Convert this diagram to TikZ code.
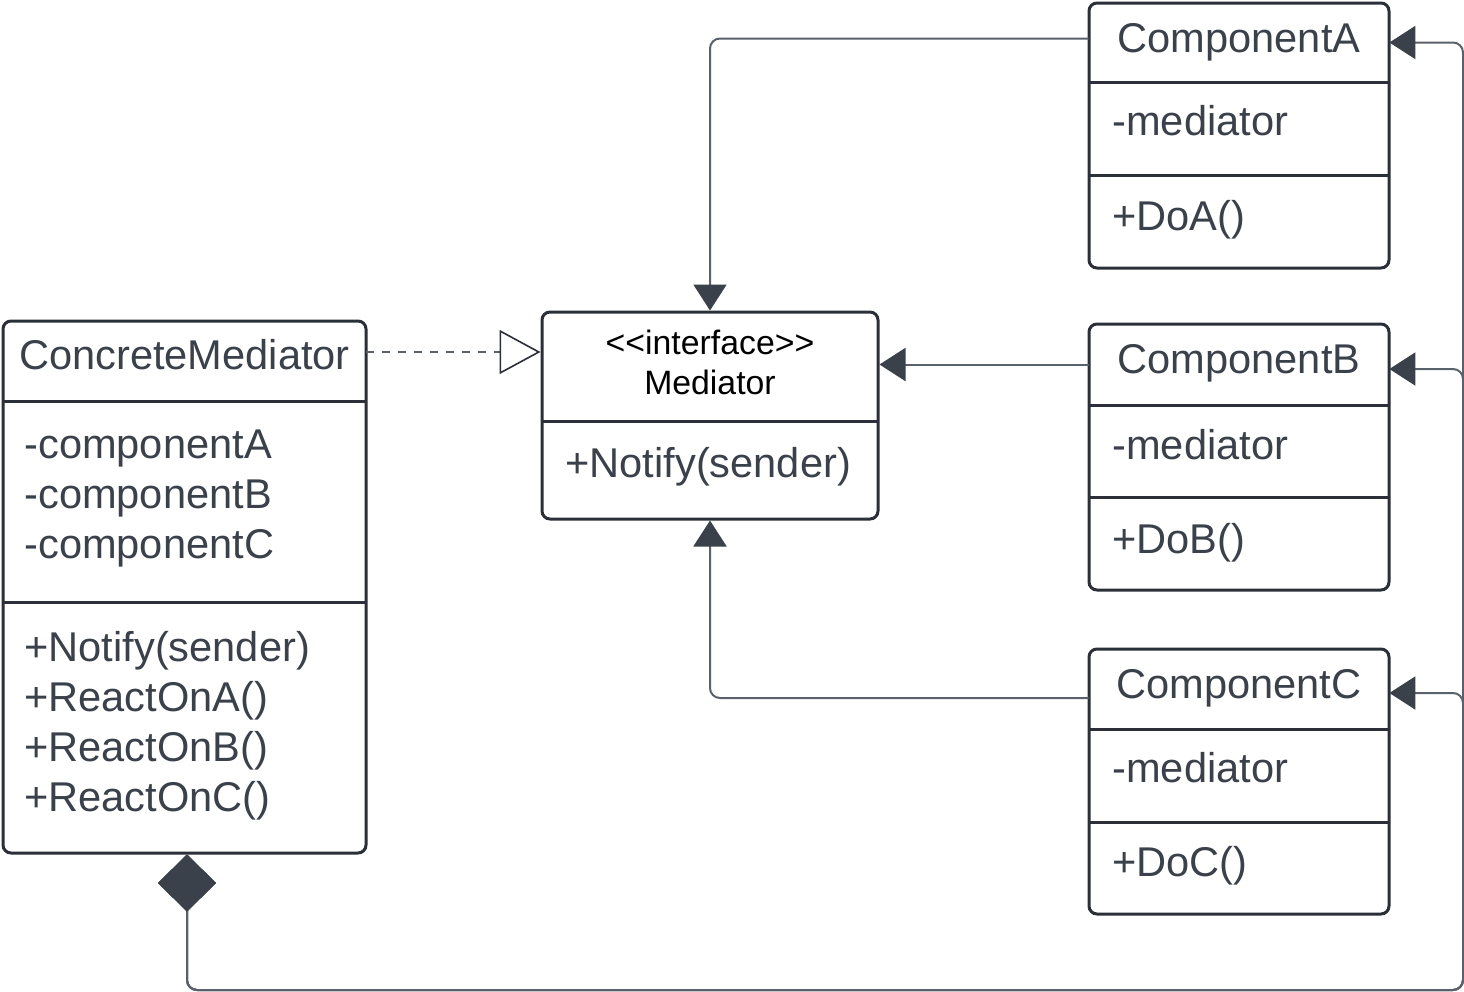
\documentclass[tikz,border=0pt]{standalone}
\usepackage{fontspec}
\setmainfont{Liberation Sans}
\usetikzlibrary{arrows.meta,fit}
\definecolor{ink}{HTML}{2B3038}
\definecolor{txt}{HTML}{3A414A}
\definecolor{wire}{HTML}{5B616A}
\definecolor{tipc}{HTML}{3A414A}
\begin{document}
\begin{tikzpicture}[x=0.5pt,y=-0.5pt,
  classbox/.style={draw=ink, line width=1.5pt, rounded corners=4pt, inner sep=0pt, fill=white},
  part/.style={inner sep=0pt, draw=none},
  divider/.style={draw=ink, line width=1.5pt},
  ttl/.style={text=txt, font=\fontsize{20.8}{24}\selectfont, inner sep=0pt, anchor=base},
  mem/.style={text=txt, font=\fontsize{20.8}{24}\selectfont, inner sep=0pt, anchor=base west},
  stereo/.style={text=black, font=\fontsize{16.9}{20}\selectfont, inner sep=0pt, anchor=base},
  assoc/.style={draw=wire, line width=1pt, rounded corners=5pt,
    -{Triangle[length=13pt,width=16.5pt,fill=tipc,color=tipc]}},
  realize/.style={draw=wire, line width=0.6pt, dash pattern=on 4pt off 4pt,
    -{Triangle[open,length=20.5pt,width=22pt,fill=white,color=ink,line width=0.8pt]}},
  compose/.style={draw=wire, line width=1pt, rounded corners=5pt,
    {Diamond[length=28.5pt,width=29pt,fill=tipc,color=tipc]}-{Triangle[length=13pt,width=16.5pt,fill=tipc,color=tipc]}}
]
\fill[white] (0,0) rectangle (1464,992);
\useasboundingbox (0,0) rectangle (1464,992);

% ConcreteMediator
\node[classbox, fit={(3,321)(366,853)}] (cm) {};
\node[part, fit={(3,321)(366,401)}] (cmT) {};
\node[part, fit={(3,401)(366,602)}] (cmAt) {};
\draw[divider] (cmT.south west) -- (cmT.south east);
\draw[divider] (cmAt.south west) -- (cmAt.south east);
\node[ttl] (cmName) at (184.5,369) {ConcreteMediator};
\node[mem] (cmA1) at (24,458) {-componentA};
\node[mem] (cmA2) at (24,508) {-componentB};
\node[mem] (cmA3) at (24,558) {-componentC};
\node[mem] (cmM1) at (24,661) {+Notify(sender)};
\node[mem] (cmM2) at (24,711) {+ReactOnA()};
\node[mem] (cmM3) at (24,761) {+ReactOnB()};
\node[mem] (cmM4) at (24,811) {+ReactOnC()};

% Mediator
\node[classbox, fit={(542,312)(878,519)}] (med) {};
\node[part, fit={(542,312)(878,421)}] (medT) {};
\draw[divider] (medT.south west) -- (medT.south east);
\node[stereo] (medS) at (710,354) {<\kern0pt<interface>\kern0pt>};
\node[stereo] (medN) at (710,394) {Mediator};
\node[mem] (medM) at (565,477) {+Notify(sender)};

% ComponentA
\node[classbox, fit={(1089,3)(1389,268)}] (ca) {};
\node[part, fit={(1089,3)(1389,82)}] (caT) {};
\node[part, fit={(1089,82)(1389,175)}] (caAt) {};
\draw[divider] (caT.south west) -- (caT.south east);
\draw[divider] (caAt.south west) -- (caAt.south east);
\node[ttl] (caName) at (1239,52) {ComponentA};
\node[mem] (caA) at (1112,135) {-mediator};
\node[mem] (caM) at (1112,230) {+DoA()};

% ComponentB
\node[classbox, fit={(1089,324)(1389,590)}] (cb) {};
\node[part, fit={(1089,324)(1389,405)}] (cbT) {};
\node[part, fit={(1089,405)(1389,497)}] (cbAt) {};
\draw[divider] (cbT.south west) -- (cbT.south east);
\draw[divider] (cbAt.south west) -- (cbAt.south east);
\node[ttl] (cbName) at (1239,373) {ComponentB};
\node[mem] (cbA) at (1112,459) {-mediator};
\node[mem] (cbM) at (1112,553) {+DoB()};

% ComponentC
\node[classbox, fit={(1089,649)(1389,914)}] (cc) {};
\node[part, fit={(1089,649)(1389,729)}] (ccT) {};
\node[part, fit={(1089,729)(1389,822)}] (ccAt) {};
\draw[divider] (ccT.south west) -- (ccT.south east);
\draw[divider] (ccAt.south west) -- (ccAt.south east);
\node[ttl] (ccName) at (1239,698) {ComponentC};
\node[mem] (ccA) at (1112,782) {-mediator};
\node[mem] (ccM) at (1112,876) {+DoC()};

% associations to Mediator
\draw[assoc] ([yshift=2pt]caT.west) -| (med.north);
\draw[assoc] (cbT.west) -- (cbT.west -| med.east);
\draw[assoc] ([yshift=-4.5pt]ccT.west) -| (med.south);

% realization
\draw[realize] ([yshift=4.5pt]cmT.east) -- ([yshift=4.5pt]cmT.east -| med.west);

% composition
\coordinate (bend) at (1463,990);
\draw[compose] ([xshift=1.25pt]cm.south) |- (bend) |- (caT.east);
\draw[compose] ([xshift=1.25pt]cm.south) |- (bend) |- ([yshift=-2.25pt]cbT.east);
\draw[compose] ([xshift=1.25pt]cm.south) |- (bend) |- ([yshift=-2pt]ccT.east);
\end{tikzpicture}
\end{document}
